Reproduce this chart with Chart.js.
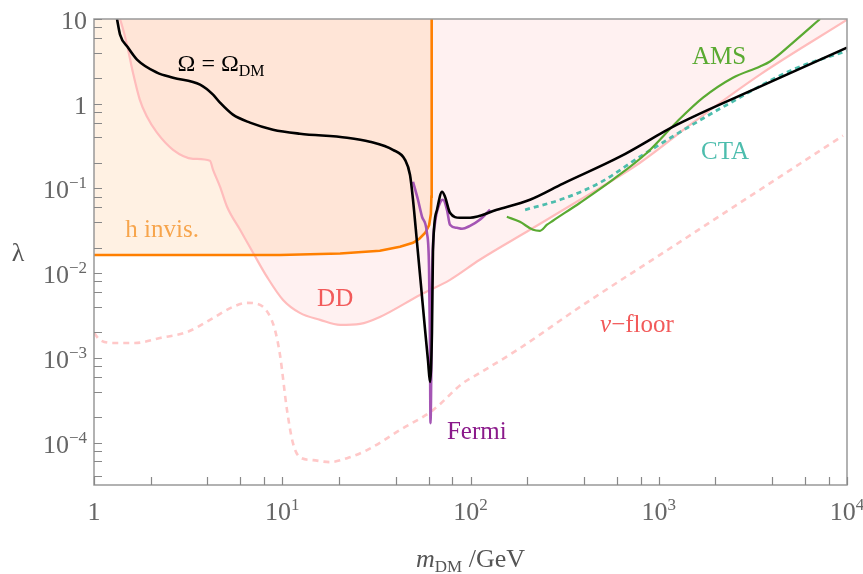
<!DOCTYPE html>
<html lang="en">
<head>
  <meta charset="UTF-8">
  <title>Higgs portal scalar DM limits</title>
  <script src="https://cdn.jsdelivr.net/npm/chart.js"></script>
  <style>
    html, body { margin: 0; background: #fff; }
    #wrap { width: 863px; height: 574px; position: relative; }
  </style>
</head>
<body>
<div id="wrap"><canvas id="chart"></canvas></div>
<script>
  // relic density line  Omega = Omega_DM
  const omegaMass = [1.325, 1.375, 1.516, 1.692, 2.16, 2.63, 3.66, 4.29, 4.67, 5.47, 6.74, 8.93, 12.4, 22.1, 29.2, 38.7, 44.9, 47.7, 49.5, 52.0, 54.6, 57.3, 59.5, 60.9, 62.4, 63.2, 66.4, 70.6, 73.2, 77.8, 87.9, 99.4, 138, 207, 310, 622, 1250, 3450, 10000];
  const omegaLambda = [10, 6.56, 4.60, 3.32, 2.33, 2.03, 1.68, 1.28, 1.03, 0.743, 0.598, 0.494, 0.443, 0.397, 0.356, 0.286, 0.218, 0.145, 0.0735, 0.0228, 0.00708, 0.00220, 0.000918, 0.000519, 0.00197, 0.0188, 0.056, 0.0914, 0.0798, 0.0516, 0.0451, 0.0451, 0.056, 0.0735, 0.114, 0.237, 0.566, 1.59, 4.60];

  // Fermi dwarf limit
  const fermiMass = [49.5, 52.6, 55.3, 58.7, 60.2, 60.9, 61.3, 62.1, 62.4, 64.8, 68.9, 71.4, 75.0, 77.8, 84.7, 90.1, 99.4, 112, 127];
  const fermiLambda = [0.120, 0.0735, 0.0463, 0.0299, 0.0119, 0.00163, 0.000170, 0.00163, 0.00767, 0.0394, 0.0678, 0.0735, 0.056, 0.0373, 0.0343, 0.0334, 0.0362, 0.0427, 0.056];

  // invisible Higgs decays
  const hinvMass = [1, 9.73, 20.3, 33.0, 42.2, 49.5, 53.5, 57.5, 60.3, 61.6, 62.0, 62.2, 62.2];
  const hinvLambda = [0.0164, 0.0164, 0.0171, 0.0184, 0.0205, 0.0228, 0.0255, 0.0300, 0.0370, 0.050, 0.080, 0.127, 10];

  // direct detection
  const ddMass = [1.375, 1.443, 1.516, 1.61, 1.75, 1.91, 2.16, 2.63, 3.36, 4.13, 4.29, 4.67, 5.09, 5.97, 7.00, 8.30, 10.1, 12.4, 15.9, 20.3, 25.9, 33.0, 53.9, 77.8, 112, 207, 382, 795, 1520, 3450, 10000];
  const ddLambda = [10, 6.92, 4.36, 2.33, 1.12, 0.705, 0.455, 0.286, 0.224, 0.212, 0.166, 0.105, 0.0608, 0.0325, 0.0174, 0.00904, 0.00483, 0.00340, 0.00281, 0.00245, 0.00252, 0.00304, 0.00553, 0.00834, 0.0144, 0.0325, 0.0735, 0.201, 0.598, 2.21, 9.8];

  // neutrino floor
  const nuMass = [1, 1.076, 1.29, 1.65, 2.24, 3.12, 4.13, 5.47, 6.50, 7.34, 8.40, 9.15, 9.73, 10.6, 11.4, 12.4, 14.6, 17.9, 22.1, 28.2, 42.2, 63.2, 91.2, 112, 177, 382, 1297, 3450, 9520];
  const nuLambda = [0.00197, 0.00163, 0.00150, 0.00150, 0.00172, 0.00202, 0.00281, 0.00400, 0.00446, 0.00436, 0.00340, 0.00214, 0.00108, 0.000242, 0.0000986, 0.0000675, 0.0000621, 0.0000589, 0.0000656, 0.0000815, 0.000141, 0.000242, 0.000505, 0.000664, 0.00124, 0.00400, 0.0234, 0.0966, 0.420];

  // AMS antiprotons
  const amsMass = [156, 183, 215, 234, 255, 274, 382, 571, 866, 1250, 1718, 2477, 3450, 3900, 5165, 7190];
  const amsLambda = [0.0463, 0.0404, 0.0325, 0.0316, 0.0373, 0.0416, 0.0678, 0.127, 0.264, 0.614, 1.18, 2.03, 2.75, 3.15, 5.27, 10];

  // CTA projection
  const ctaMass = [195, 310, 487, 825, 2305, 5165, 10000];
  const ctaLambda = [0.056, 0.0755, 0.117, 0.250, 0.975, 2.53, 4.2];

  // axis ticks
  const xTickValues = [1, 10, 100, 1000, 10000];
  const xTickLabels = [['1', ''], ['10', '1'], ['10', '2'], ['10', '3'], ['10', '4']];
  const yTickValues = [10, 1, 0.1, 0.01, 0.001, 0.0001];
  const yTickLabels = [['10', ''], ['1', ''], ['10', '−1'], ['10', '−2'], ['10', '−3'], ['10', '−4']];
  const minorSteps = [2, 4, 6, 8];

  const FONT = '"Liberation Serif", "DejaVu Serif", serif';

  const notes = [
    { m: 4.73, l: 3.06, color: '#000', parts: [['Ω = Ω', 24, 0, ''], ['DM', 16, 5, '']] },
    { m: 2.30, l: 0.0334, color: '#f7a54c', parts: [['h invis.', 25, 0, '']] },
    { m: 19.1, l: 0.0051, color: '#f25a5a', parts: [['DD', 25, 0, '']] },
    { m: 766, l: 0.00252, color: '#f25a5a', parts: [['ν', 25, 0, 'italic '], ['−floor', 25, 0, '']] },
    { m: 2249, l: 0.279, color: '#4dbdad', parts: [['CTA', 25, 0, '']] },
    { m: 2090, l: 3.61, color: '#5aaa32', parts: [['AMS', 25, 0, '']] },
    { m: 108, l: 0.000137, color: '#8b1a8b', parts: [['Fermi', 25, 0, '']] }
  ];

  const pts = (xs, ys) => xs.map((v, i) => ({ x: v, y: ys[i] }));

  function drawParts(ctx, parts, cx, baseline, color) {
    let total = 0;
    parts.forEach(p => { ctx.font = p[3] + p[1] + 'px ' + FONT; total += ctx.measureText(p[0]).width; });
    let x = cx - total / 2;
    ctx.fillStyle = color;
    ctx.textAlign = 'left';
    ctx.textBaseline = 'alphabetic';
    parts.forEach(p => {
      ctx.font = p[3] + p[1] + 'px ' + FONT;
      ctx.fillText(p[0], x, baseline + p[2]);
      x += ctx.measureText(p[0]).width;
    });
  }

  function drawPow(ctx, lab, x, baseline, align) {
    ctx.font = '26px ' + FONT;
    const wb = ctx.measureText(lab[0]).width;
    ctx.font = '17px ' + FONT;
    const we = ctx.measureText(lab[1]).width;
    const w = wb + we;
    let left = align === 'right' ? x - w : x - w / 2;
    ctx.textAlign = 'left';
    ctx.textBaseline = 'alphabetic';
    ctx.font = '26px ' + FONT;
    ctx.fillText(lab[0], left, baseline);
    ctx.font = '17px ' + FONT;
    ctx.fillText(lab[1], left + wb, baseline - 10);
  }

  const decorations = {
    id: 'decorations',
    afterDraw(chart) {
      const { ctx, chartArea: a, scales: { x, y } } = chart;
      ctx.save();
      ctx.strokeStyle = '#999';
      ctx.lineWidth = 1.5;
      ctx.strokeRect(a.left, a.top, a.right - a.left, a.bottom - a.top);

      ctx.strokeStyle = '#888';
      ctx.lineWidth = 1.2;
      ctx.beginPath();
      xTickValues.forEach(v => {
        [1].concat(minorSteps).forEach(k => {
          const val = v * k;
          if (val > x.max) return;
          const px = Math.round(x.getPixelForValue(val)) + 0.5;
          ctx.moveTo(px, a.bottom); ctx.lineTo(px, a.bottom - 8);
        });
      });
      [1e-5].concat(yTickValues).forEach(v => {
        [1].concat(minorSteps).forEach(k => {
          const val = v * k;
          if (val < y.min || val > y.max * 1.0001) return;
          const py = Math.round(y.getPixelForValue(val)) + 0.5;
          ctx.moveTo(a.left, py); ctx.lineTo(a.left + 8, py);
        });
      });
      ctx.stroke();

      ctx.fillStyle = '#666';
      xTickValues.forEach((v, i) => drawPow(ctx, xTickLabels[i], x.getPixelForValue(v), a.bottom + 35, 'center'));
      yTickValues.forEach((v, i) => drawPow(ctx, yTickLabels[i], a.left - 7, y.getPixelForValue(v) + 10, 'right'));

      // axis titles
      ctx.fillStyle = '#555';
      ctx.font = '26px ' + FONT;
      ctx.textAlign = 'center';
      ctx.textBaseline = 'middle';
      ctx.fillText('λ', 18, (a.top + a.bottom) / 2 + 2);
      drawParts(ctx, [['m', 26, 0, 'italic '], ['DM', 17, 5, ''], [' /GeV', 26, 0, '']], (a.left + a.right) / 2, 567, '#555');

      // curve labels
      notes.forEach(n => drawParts(ctx, n.parts, x.getPixelForValue(n.m), y.getPixelForValue(n.l) + 8, n.color));
      ctx.restore();
    }
  };

  const smooth = { cubicInterpolationMode: 'monotone' };

  new Chart(document.getElementById('chart'), {
    type: 'line',
    data: {
      datasets: [
        { data: pts(omegaMass, omegaLambda), borderColor: '#000', borderWidth: 2.6, order: 0, ...smooth },
        { data: pts(fermiMass, fermiLambda), borderColor: '#a455b4', borderWidth: 2.6, order: 1, ...smooth },
        { data: pts(hinvMass, hinvLambda), borderColor: '#ff7f00', borderWidth: 2.6, order: 2,
          fill: 'end', backgroundColor: 'rgba(255,128,0,0.11)' },
        { data: pts(amsMass, amsLambda), borderColor: '#5aaa32', borderWidth: 2.2, order: 3, ...smooth },
        { data: pts(ctaMass, ctaLambda), borderColor: '#4dbdad', borderWidth: 2.8, borderDash: [5, 4], order: 4, ...smooth },
        { data: pts(ddMass, ddLambda), borderColor: '#ffbcbc', borderWidth: 2.2, order: 5, ...smooth,
          fill: 'end', backgroundColor: 'rgba(255,160,160,0.15)' },
        { data: pts(nuMass, nuLambda), borderColor: '#ffc8c8', borderWidth: 2.6, borderDash: [6, 5], order: 6, ...smooth }
      ]
    },
    options: {
      responsive: true,
      maintainAspectRatio: false,
      animation: false,
      layout: { padding: { left: 94, right: 16, top: 19, bottom: 89 } },
      elements: { point: { radius: 0 }, line: { tension: 0, fill: false } },
      scales: {
        x: { type: 'logarithmic', min: 1, max: 10000, display: false },
        y: { type: 'logarithmic', min: Math.pow(10, -4.5), max: 10, display: false }
      },
      plugins: {
        legend: { display: false },
        tooltip: { enabled: false },
        filler: { drawTime: 'beforeDatasetsDraw' }
      }
    },
    plugins: [decorations]
  });
</script>
</body>
</html>
